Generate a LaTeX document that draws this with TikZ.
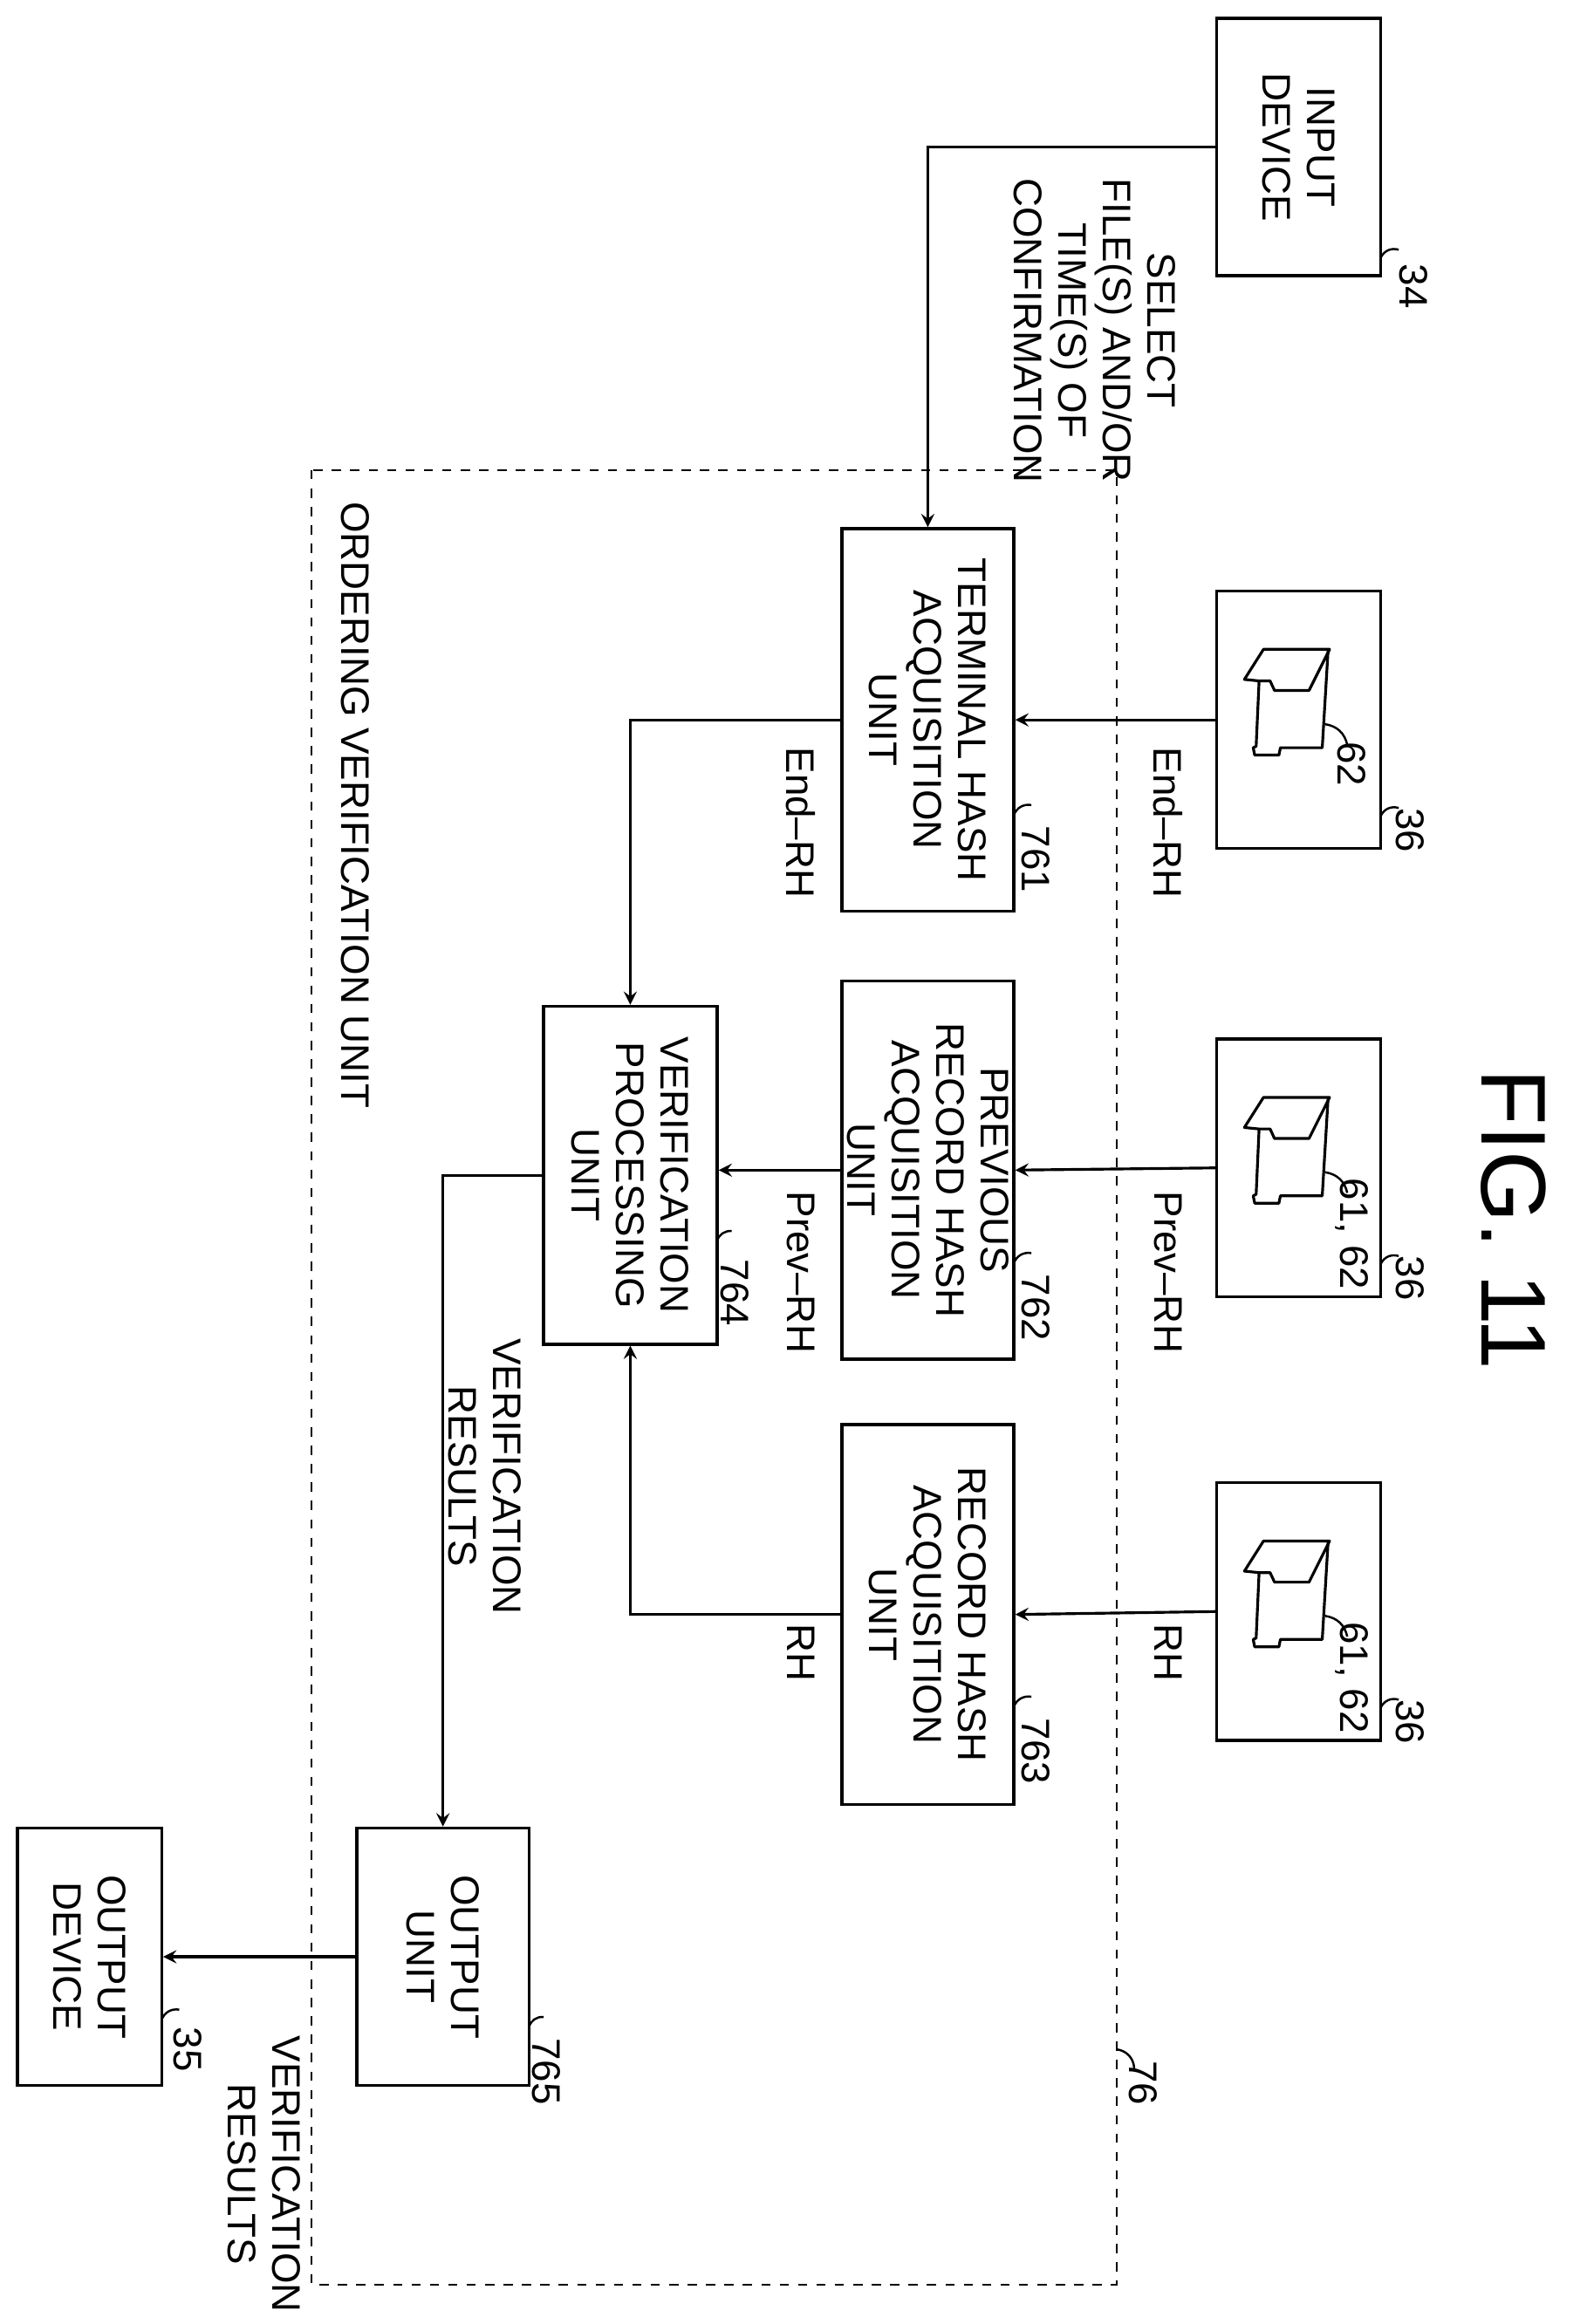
\documentclass[tikz,border=0pt]{standalone}
\usepackage{fontspec}
\setmainfont{Liberation Sans}
\begin{document}
\begin{tikzpicture}[x=0.01683cm,y=-0.01683cm,
  every node/.style={font=\fontsize{13}{14.5}\selectfont,align=center,rotate=-90,inner sep=1pt},
  box/.style={draw,line width=1pt,inner sep=0pt},
  con/.style={line width=0.9pt,->,>=stealth},
  lead/.style={line width=0.7pt},
  ico/.style={line width=0.9pt,line join=round}]
\useasboundingbox (0,0) rectangle (1080,1582);
\node[font=\fontsize{30}{32}\selectfont] (fig) at (1030,830) {FIG. 11};
% dashed unit
\draw[dashed,line width=0.6pt] (212,320) rectangle (760,1555);
\node (ovu) at (242,548) {ORDERING VERIFICATION UNIT};
\node (n76) at (778,1418) {76};
\draw[lead] (760,1395) to[bend left=40] (772,1408);
% boxes
\node[box,minimum width=2.95cm,minimum height=1.88cm] (inp) at (884,100) {INPUT\\DEVICE};
\node[box,minimum width=2.95cm,minimum height=1.88cm] (s1) at (884,490) {};
\node[box,minimum width=2.95cm,minimum height=1.88cm] (s2) at (884,795) {};
\node[box,minimum width=2.95cm,minimum height=1.88cm] (s3) at (884,1097) {};
\node[box,minimum width=4.38cm,minimum height=1.97cm] (tha) at (631.5,490) {TERMINAL HASH\\ACQUISITION\\UNIT};
\node[box,minimum width=4.33cm,minimum height=1.97cm] (pra) at (631.5,796.5) {PREVIOUS\\RECORD HASH\\ACQUISITION\\UNIT};
\node[box,minimum width=4.35cm,minimum height=1.97cm] (rha) at (631.5,1099) {RECORD HASH\\ACQUISITION\\UNIT};
\node[box,minimum width=3.87cm,minimum height=1.99cm] (vp) at (429,800) {VERIFICATION\\PROCESSING\\UNIT};
\node[box,minimum width=2.95cm,minimum height=1.97cm] (ou) at (301.5,1332) {OUTPUT\\UNIT};
\node[box,minimum width=2.95cm,minimum height=1.65cm] (od) at (61,1332) {OUTPUT\\DEVICE};
% icons
\foreach \c/\t/\o [count=\i] in {490/62/30,795/{61, 62}/45,1097/{61, 62}/45}{
  \begin{scope}[shift={(884,\c)}]
  \draw[ico] (-37,-27.5) -- (-24,-48) -- (21,-48) -- (7,-20) -- (-16.5,-20) -- (-19.5,-26.5) -- (-27,-26.5) -- cycle;
  \draw[ico] (-27,-26.5) -- (-29,18) -- (-31,19) -- (-30,24) -- (-13.5,24) -- (-12.5,19) -- (16,19) -- (20,-48);
  \draw[lead] (18,3) to[bend left=35] (33,17);
  \end{scope}
  \node (ic\i) at (920,\c+\o) {\t};
  \node (t\i) at (960,\c+75) {36};
  \draw[lead] (940,\c+65) to[bend left=40] (952,\c+60);
}
% labels with leaders
\node (n34) at (962,195) {34};
\draw[lead] (940,175) to[bend left=40] (952,170);
\node (n761) at (705,585) {761};
\draw[lead] (690,555) to[bend left=40] (702,548);
\node (n762) at (705,890) {762};
\draw[lead] (690,860) to[bend left=40] (702,853);
\node (n763) at (705,1192) {763};
\draw[lead] (690,1162) to[bend left=40] (702,1155);
\node (n764) at (500,880) {764};
\draw[lead] (488,845) to[bend left=40] (498,838);
\node (n765) at (372,1410) {765};
\draw[lead] (360,1380) to[bend left=40] (370,1373);
\node (n35) at (128,1395) {35};
\draw[lead] (110,1375) to[bend left=40] (122,1368);
% connectors
\draw[con] (inp.south) -| (tha.west);
\node (sel) at (745,225) {SELECT\\FILE(S) AND/OR\\TIME(S) OF\\CONFIRMATION};
\draw[con] (s1.south) -- (tha.north);
\draw[con] (s2.south) -- (pra.north);
\draw[con] (s3.south) -- (rha.north);
\node (l1) at (795,560) {End--RH};
\node (l2) at (795,866) {Prev--RH};
\node (l3) at (795,1125) {RH};
\draw[con] (tha.south) -| (vp.west);
\draw[con] (pra.south) -- (pra.south -| vp.north);
\draw[con] (rha.south) -| (vp.east);
\node (l4) at (545,560) {End--RH};
\node (l5) at (545,866) {Prev--RH};
\node (l6) at (545,1125) {RH};
\draw[con] (vp.south) -| (ou.west);
\node (vr1) at (330,1005) {VERIFICATION\\RESULTS};
\draw[con] (ou.south) -- (od.north);
\node (vr2) at (180,1480) {VERIFICATION\\RESULTS};
\end{tikzpicture}
\end{document}
